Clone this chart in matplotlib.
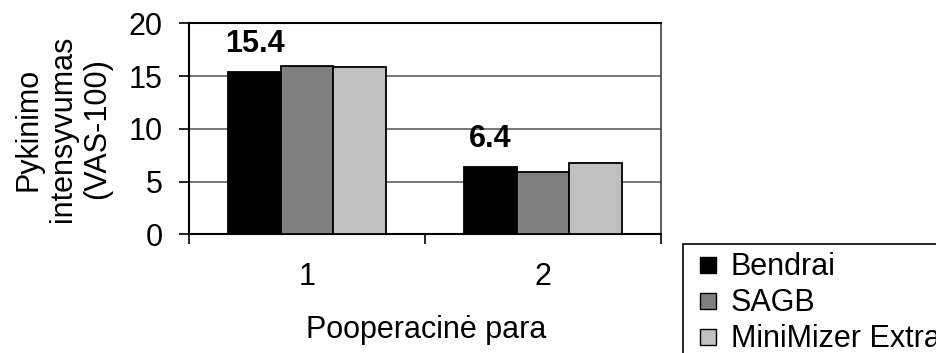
import matplotlib
matplotlib.use("Agg")
import matplotlib.pyplot as plt
import numpy as np
from matplotlib.lines import Line2D

plt.rcParams['font.family'] = ['Liberation Sans', 'DejaVu Sans']

categories = ["1", "2"]
series_names = ["Bendrai", "SAGB", "MiniMizer Extra"]
bendrai = [15.4, 6.4]
sagb = [16.0, 5.95]
minimizer = [15.85, 6.8]
bar_labels = ["15.4", "6.4"]
colors = ["#000000", "#808080", "#C0C0C0"]
yticks = [0, 5, 10, 15, 20]

FS = 22
W, H = 936, 353
fig = plt.figure(figsize=(W / 100, H / 100), dpi=100)
ax = fig.add_axes([189 / W, (H - 234.3) / H, 472 / W, 211 / H])

x = np.arange(len(categories))
w = 0.222
series = [bendrai, sagb, minimizer]
for i, (vals, c, name) in enumerate(zip(series, colors, series_names)):
    ax.bar(x + (i - 1) * w, vals, width=w, color=c, edgecolor="black",
           linewidth=1.3, zorder=3, label=name)

for xi, v, lab in zip(x, bendrai, bar_labels):
    ax.annotate(lab, (xi - w, v), xytext=(0, 20), textcoords="offset points",
                ha="center", va="center", fontsize=FS, fontweight="bold")

ax.set_ylim(0, 20)
ax.set_xlim(-0.5, len(categories) - 0.5)
ax.set_yticks(yticks)
ax.set_yticklabels([str(t) for t in yticks], fontsize=FS)
ax.tick_params(axis="y", direction="out", length=7, width=1.2, pad=12)
ax.yaxis.grid(True, color="#606060", linewidth=1.2, zorder=0)
ax.set_axisbelow(True)

ax.set_xticks(np.arange(-0.5, len(categories), 1.0))
ax.set_xticklabels([])
ax.tick_params(axis="x", which="major", direction="out", length=7, width=1.2)
ax.set_xticks(x, minor=True)
ax.set_xticklabels(categories, minor=True, fontsize=FS)
ax.tick_params(axis="x", which="minor", length=0, pad=20)

for s in ["left", "bottom", "top"]:
    ax.spines[s].set_linewidth(1.5)
    ax.spines[s].set_color("black")
ax.spines["right"].set_color("#404040")
ax.spines["right"].set_linewidth(1.2)

fig.text(426 / W, 1 - 330 / H, "Pooperacinė para", ha="center", va="center", fontsize=FS)
fig.text(63 / W, 1 - 129 / H, "Pykinimo\nintensyvumas\n(VAS-100)", ha="center", va="center",
         rotation=90, fontsize=FS, linespacing=1.2)

handles = [Line2D([], [], linestyle="none", marker="s", markersize=11,
                  markerfacecolor=c, markeredgecolor="black", markeredgewidth=1.0)
           for c in colors]
leg = fig.legend(handles, series_names, loc="upper left",
                 bbox_to_anchor=(682.7 / W, 1 - 244 / H), fontsize=FS,
                 frameon=True, fancybox=False, edgecolor="black", framealpha=1,
                 borderaxespad=0, borderpad=0.27, handlelength=1.1,
                 handletextpad=0.2, labelspacing=0.2)
leg.get_frame().set_linewidth(1.2)
leg.set_clip_on(False)

fig.savefig("out.png", dpi=100)
